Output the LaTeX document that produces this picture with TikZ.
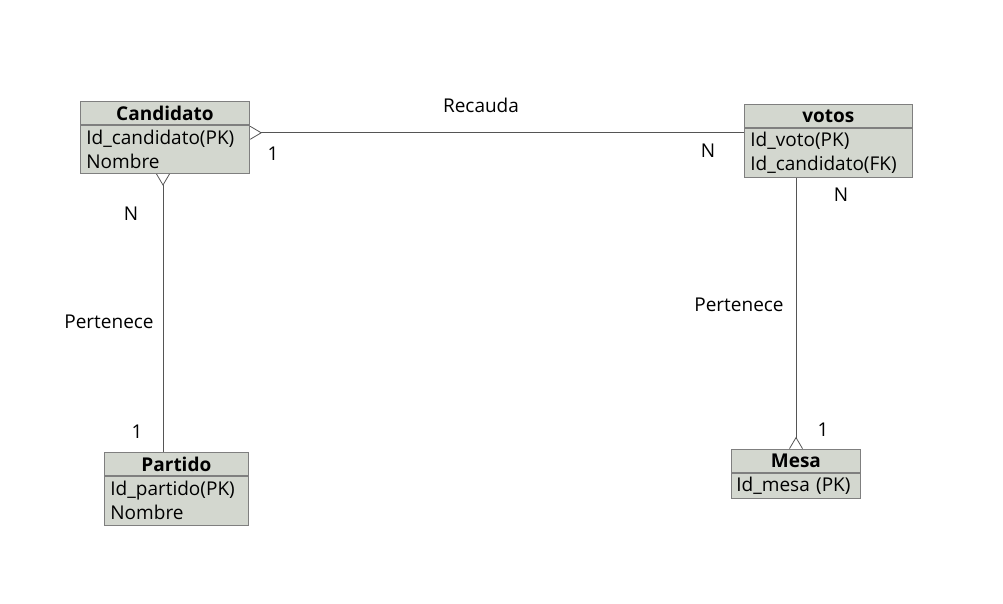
\documentclass[tikz,border=0pt]{standalone}
\usepackage{fontspec}
\setmainfont{Open Sans}
\usetikzlibrary{arrows.meta}
\definecolor{relleno}{HTML}{D3D7CF}
\definecolor{borde}{HTML}{7F7F7F}
\definecolor{linea}{HTML}{555555}
\begin{document}
\begin{tikzpicture}[x=1pt,y=-1pt]
\tikzset{cabecera/.style={draw=borde, fill=relleno, line width=0.8pt, inner sep=0pt, minimum height=23pt, anchor=north west, font=\bfseries\fontsize{19}{22}\selectfont},
cuerpo/.style={draw=borde, fill=relleno, line width=0.8pt, inner xsep=6pt, inner ysep=0pt, anchor=north west, align=left, font=\fontsize{19}{24}\selectfont},
etiqueta/.style={font=\fontsize{19}{22}\selectfont},
enlace/.style={draw=linea, line width=0.8pt},
pata/.style={{Straight Barb[reversed,length=11pt,width=13pt]}-}}
\useasboundingbox (0,0) rectangle (1003,603);
% entidades
\node[cabecera, minimum width=169pt] (candh) at (80,101) {Candidato};
\node[cuerpo, text width=157pt, minimum height=48pt] (candb) at (candh.south west) {Id\_candidato(PK)\\Nombre};
\node[cabecera, minimum width=168pt] (voth) at (744,104) {votos};
\node[cuerpo, text width=156pt, minimum height=49pt] (votb) at (voth.south west) {Id\_voto(PK)\\Id\_candidato(FK)};
\node[cabecera, minimum width=144pt] (parth) at (104,452) {Partido};
\node[cuerpo, text width=132pt, minimum height=49pt] (partb) at (parth.south west) {Id\_partido(PK)\\Nombre};
\node[cabecera, minimum width=129pt] (mesah) at (731,449) {Mesa};
\node[cuerpo, inner xsep=5pt, text width=119pt, minimum height=25pt] (mesab) at (mesah.south west) {Id\_mesa (PK)};
% relaciones
\draw[enlace, pata] ([yshift=-8pt]candb.north east) -- ([yshift=-5pt]votb.north west);
\draw[enlace, pata] ([xshift=83pt]candb.south west) -- ([xshift=59pt]parth.north west);
\draw[enlace, pata] ([xshift=65pt]mesah.north west) -- ([xshift=52pt]votb.south west);
% etiquetas
\node[etiqueta] (l1) at (481,105) {Recauda};
\node[etiqueta] (l2) at (273,154) {1};
\node[etiqueta] (l3) at (708,151) {N};
\node[etiqueta] (l4) at (131,214) {N};
\node[etiqueta] (l5) at (109,322) {Pertenece};
\node[etiqueta] (l6) at (137,432) {1};
\node[etiqueta] (l7) at (841,195) {N};
\node[etiqueta] (l8) at (739,305) {Pertenece};
\node[etiqueta] (l9) at (823,430) {1};
\end{tikzpicture}
\end{document}
